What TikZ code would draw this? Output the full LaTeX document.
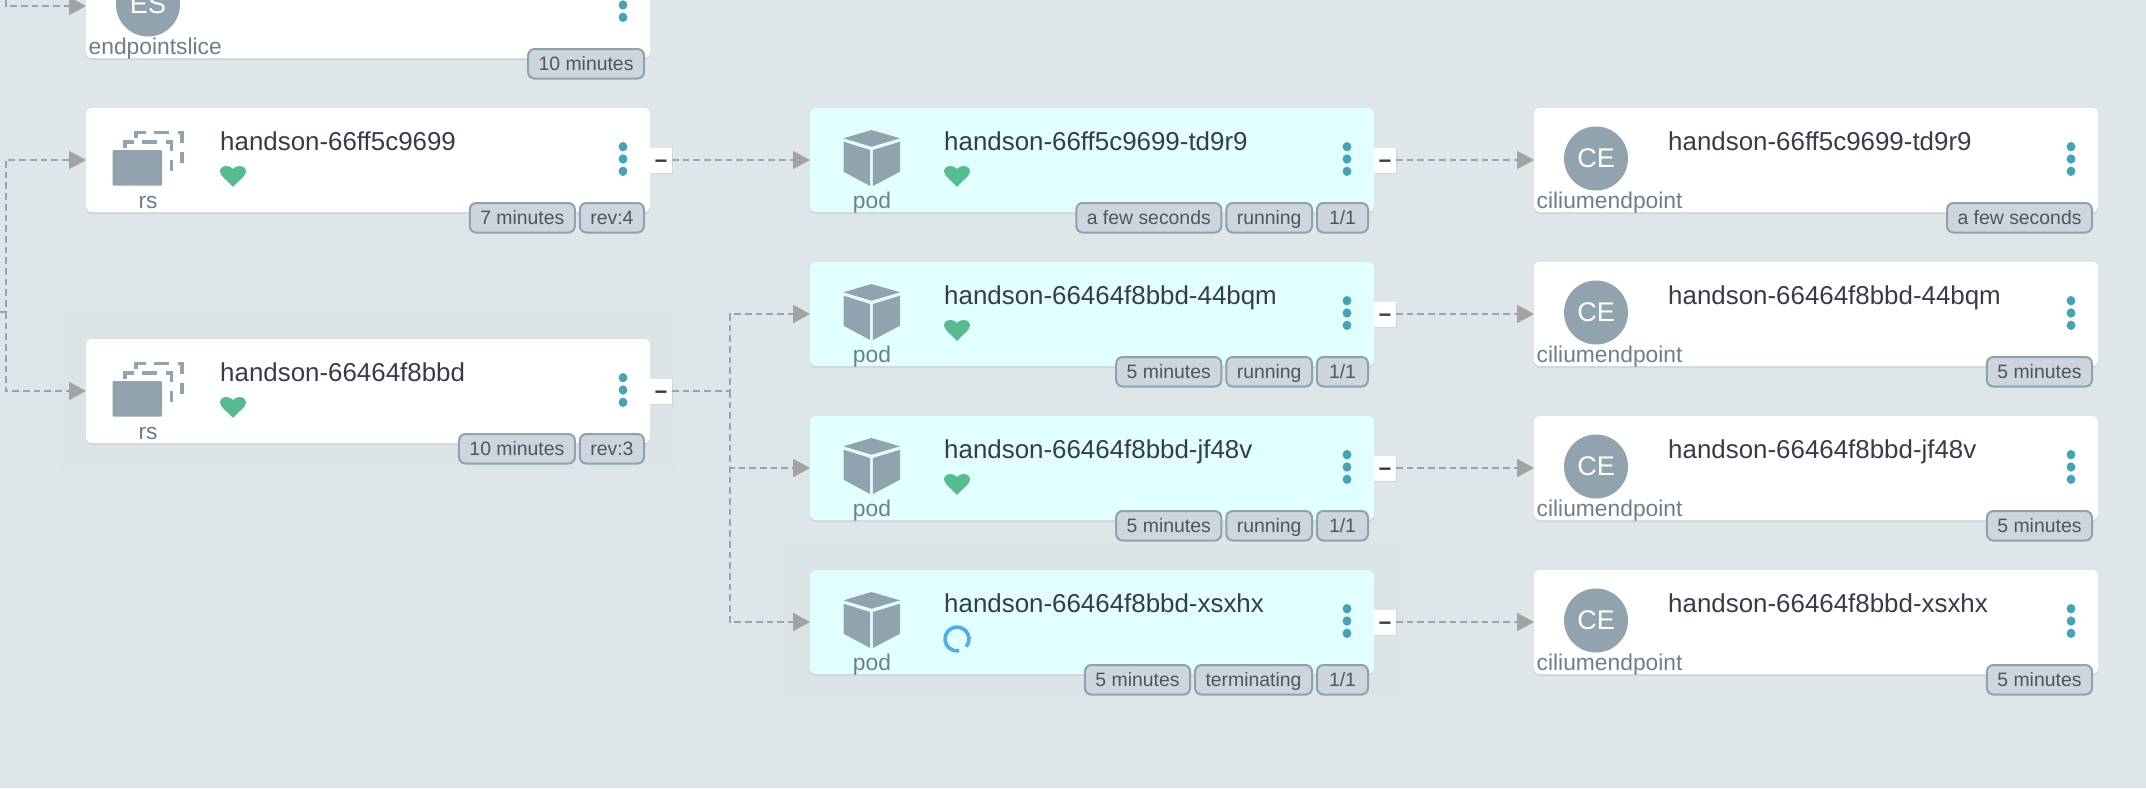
\documentclass[tikz,border=0pt]{standalone}
\usepackage{fontspec}
\setmainfont{Liberation Sans}
\usetikzlibrary{positioning,arrows.meta,shadows}
\definecolor{pagebg}{HTML}{DEE6EA}
\definecolor{hoverbg}{HTML}{DCE4E7}
\definecolor{podbg}{HTML}{E1FFFF}
\definecolor{shadowgray}{HTML}{CFD7DC}
\definecolor{slate}{HTML}{92A3B0}
\definecolor{edgegray}{HTML}{95A6B2}
\definecolor{tipgray}{HTML}{A3A3A3}
\definecolor{namedark}{HTML}{363C4A}
\definecolor{kindgray}{HTML}{6D7F8B}
\definecolor{badgefill}{HTML}{CED5DE}
\definecolor{badgeline}{HTML}{8FA1AF}
\definecolor{badgetext}{HTML}{495763}
\definecolor{dotteal}{HTML}{46A3B5}
\definecolor{healthy}{HTML}{57BB92}
\definecolor{spinblue}{HTML}{4FADEC}
\newcommand{\sizept}[1]{\fontsize{#1}{#1}\selectfont}
\tikzstyle{card} = [anchor=north west,rounded corners=6pt,minimum width=564pt,minimum height=104pt,inner sep=0pt,outer sep=0pt,drop shadow={shadow xshift=0pt,shadow yshift=-2pt,fill=shadowgray,opacity=1}]
\tikzstyle{cardname} = [anchor=base west,inner sep=0pt,text=namedark,font=\sizept{25.9}]
\tikzstyle{kind} = [inner sep=0pt,text=kindgray,font=\sizept{22.8}]
\tikzstyle{avatar} = [circle,fill=slate,text=white,minimum size=64pt,inner sep=0pt,font=\sizept{27}]
\tikzstyle{badge} = [draw=badgeline,fill=badgefill,text=badgetext,line width=2pt,rounded corners=6.5pt,inner xsep=10.5pt,inner ysep=5.5pt,outer sep=0pt,minimum width=51pt,text height=15.5pt,text depth=3pt,font=\sizept{19.4}]
\tikzstyle{toggle} = [fill=white,text=namedark,minimum width=22pt,minimum height=25pt,inner sep=0pt,outer sep=0pt,text height=16pt,text depth=0pt,font=\sizept{22}\bfseries,drop shadow={shadow xshift=1pt,shadow yshift=-1pt,fill=shadowgray,opacity=1}]
\tikzstyle{edge} = [draw=edgegray,line width=2pt,dash pattern=on 6.7pt off 4pt,-{Triangle[length=17pt,width=18pt,color=tipgray,fill=tipgray]}]
\tikzstyle{stack} = [draw=slate,line width=3.7pt,dash pattern=on 15pt off 8.5pt]
\newcommand{\card}[5]{%
  \node[card,fill=#4] (#1) at (#2,#3) {};
  \begin{scope}[shift={(#2,#3)}]
    \node[cardname] (#1-name) at (134,42.5) {#5};
    \foreach \doty in {38.7,51,63.3}
      \fill[dotteal] (537,\doty) ellipse (4.4pt and 4.7pt);
  \end{scope}
}
\newcommand{\heart}[2]{%
  \begin{scope}[shift={(#1,#2)}]
    \fill[healthy] (147,79) .. controls (142,73) and (134,68) .. (134,63.5)
      .. controls (134,60) and (137,58) .. (140.5,58)
      .. controls (143,58) and (145.5,59) .. (147,61)
      .. controls (148.5,59) and (151,58) .. (153.5,58)
      .. controls (157,58) and (160,60) .. (160,63.5)
      .. controls (160,68) and (152,73) .. (147,79) -- cycle;
  \end{scope}
}
\newcommand{\rsicon}[3]{%
  \begin{scope}[shift={(#2,#3)}]
    \draw[stack] (50,30) |- (96,24.5) -- (96,55);
    \draw[stack] (39,40) |- (85.5,33.8) -- (85.5,63);
    \fill[white] (24.5,40) rectangle (78,80);
    \fill[slate,rounded corners=1pt] (26.5,42) rectangle (76,77.7);
    \node[kind,anchor=base] (#1-kind) at (62,100) {rs};
  \end{scope}
}
\newcommand{\podicon}[3]{%
  \begin{scope}[shift={(#2,#3)}]
    \fill[slate] (61.5,22) -- (90,30.3) -- (61.5,38.7) -- (33.5,30.3) -- cycle;
    \fill[slate] (33.5,33.7) -- (60.1,42) -- (60.1,78) -- (33.5,63.7) -- cycle;
    \fill[slate] (62.9,42) -- (90,33.7) -- (90,63.7) -- (62.9,78) -- cycle;
    \node[kind,anchor=base] (#1-kind) at (62,100) {pod};
  \end{scope}
}
\newcommand{\avataricon}[5]{%
  \begin{scope}[shift={(#2,#3)}]
    \node[avatar] (#1-icon) at (62,50.5) {#4};
    \node[kind,anchor=base west] (#1-kind) at (2.5,100) {#5};
  \end{scope}
}

\begin{document}
\begin{tikzpicture}[x=1pt,y=-1pt]
    \useasboundingbox (0,0) rectangle (2146,788);
    \clip (0,0) rectangle (2146,788);
    \fill[pagebg] (0,0) rectangle (2146,788);
    \fill[hoverbg] (59,312) rectangle (676,469);
    \fill[hoverbg] (783,543) rectangle (1400,701);

    \card{es}{86}{-46}{white}{}
    \avataricon{es}{86}{-46}{ES}{endpointslice}
    \node[badge,anchor=north east] (es-age) at ([xshift=-6pt,yshift=9pt]es.south east) {10 minutes};

    \card{rsa}{86}{108}{white}{handson-66ff5c9699}
    \rsicon{rsa}{86}{108}
    \heart{86}{108}
    \node[toggle,right=0pt of rsa] (rsa-btn) {−};
    \node[badge,anchor=north east] (rsa-rev) at ([xshift=-6pt,yshift=9pt]rsa.south east) {rev:4};
    \node[badge,left=5pt of rsa-rev] (rsa-age) {7 minutes};

    \card{rsb}{86}{339}{white}{handson-66464f8bbd}
    \rsicon{rsb}{86}{339}
    \heart{86}{339}
    \node[toggle,right=0pt of rsb] (rsb-btn) {−};
    \node[badge,anchor=north east] (rsb-rev) at ([xshift=-6pt,yshift=9pt]rsb.south east) {rev:3};
    \node[badge,left=5pt of rsb-rev] (rsb-age) {10 minutes};

    \card{poda}{810}{108}{podbg}{handson-66ff5c9699-td9r9}
    \podicon{poda}{810}{108}
    \heart{810}{108}
    \node[toggle,right=0pt of poda] (poda-btn) {−};
    \node[badge,anchor=north east] (poda-ready) at ([xshift=-6pt,yshift=9pt]poda.south east) {1/1};
    \node[badge,left=5pt of poda-ready] (poda-state) {running};
    \node[badge,left=5pt of poda-state] (poda-age) {a few seconds};

    \card{podb}{810}{262}{podbg}{handson-66464f8bbd-44bqm}
    \podicon{podb}{810}{262}
    \heart{810}{262}
    \node[toggle,right=0pt of podb] (podb-btn) {−};
    \node[badge,anchor=north east] (podb-ready) at ([xshift=-6pt,yshift=9pt]podb.south east) {1/1};
    \node[badge,left=5pt of podb-ready] (podb-state) {running};
    \node[badge,left=5pt of podb-state] (podb-age) {5 minutes};

    \card{podc}{810}{416}{podbg}{handson-66464f8bbd-jf48v}
    \podicon{podc}{810}{416}
    \heart{810}{416}
    \node[toggle,right=0pt of podc] (podc-btn) {−};
    \node[badge,anchor=north east] (podc-ready) at ([xshift=-6pt,yshift=9pt]podc.south east) {1/1};
    \node[badge,left=5pt of podc-ready] (podc-state) {running};
    \node[badge,left=5pt of podc-state] (podc-age) {5 minutes};

    \card{podd}{810}{570}{podbg}{handson-66464f8bbd-xsxhx}
    \podicon{podd}{810}{570}
    \draw[spinblue,line width=3.6pt] (957,639) ++(-40:12pt) arc[start angle=-40,end angle=280,radius=12pt];
    \node[toggle,right=0pt of podd] (podd-btn) {−};
    \node[badge,anchor=north east] (podd-ready) at ([xshift=-6pt,yshift=9pt]podd.south east) {1/1};
    \node[badge,left=5pt of podd-ready] (podd-state) {terminating};
    \node[badge,left=5pt of podd-state] (podd-age) {5 minutes};

    \card{cea}{1534}{108}{white}{handson-66ff5c9699-td9r9}
    \avataricon{cea}{1534}{108}{CE}{ciliumendpoint}
    \node[badge,anchor=north east] (cea-age) at ([xshift=-6pt,yshift=9pt]cea.south east) {a few seconds};

    \card{ceb}{1534}{262}{white}{handson-66464f8bbd-44bqm}
    \avataricon{ceb}{1534}{262}{CE}{ciliumendpoint}
    \node[badge,anchor=north east] (ceb-age) at ([xshift=-6pt,yshift=9pt]ceb.south east) {5 minutes};

    \card{cec}{1534}{416}{white}{handson-66464f8bbd-jf48v}
    \avataricon{cec}{1534}{416}{CE}{ciliumendpoint}
    \node[badge,anchor=north east] (cec-age) at ([xshift=-6pt,yshift=9pt]cec.south east) {5 minutes};

    \card{ced}{1534}{570}{white}{handson-66464f8bbd-xsxhx}
    \avataricon{ced}{1534}{570}{CE}{ciliumendpoint}
    \node[badge,anchor=north east] (ced-age) at ([xshift=-6pt,yshift=9pt]ced.south east) {5 minutes};

    \coordinate (upper) at (5.5,0);
    \coordinate (owner) at (0,312);
    \coordinate (trunk) at (5.5,312);
    \coordinate (fan) at (730,391);
    \draw[edge] (upper) |- (es.west);
    \draw[edge] (owner) -- (trunk) |- (rsa.west);
    \draw[edge] (trunk) |- (rsb.west);
    \draw[edge] (rsa-btn.east) -- (poda.west);
    \draw[edge] (rsb-btn.east) -- (fan) |- (podb.west);
    \draw[edge] (fan) |- (podc.west);
    \draw[edge] (fan) |- (podd.west);
    \draw[edge] (poda-btn.east) -- (cea.west);
    \draw[edge] (podb-btn.east) -- (ceb.west);
    \draw[edge] (podc-btn.east) -- (cec.west);
    \draw[edge] (podd-btn.east) -- (ced.west);
\end{tikzpicture}
\end{document}
